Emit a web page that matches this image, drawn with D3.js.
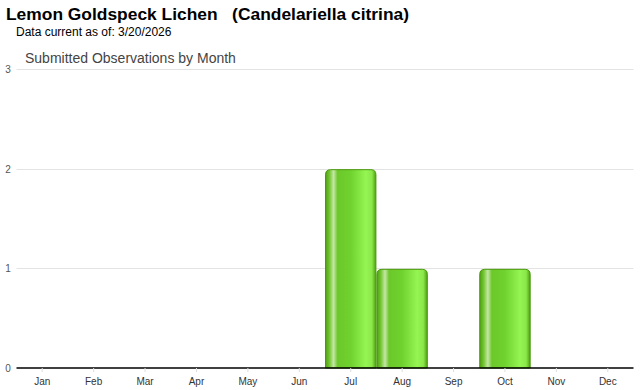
<!DOCTYPE html>
<html lang="en">
<head>
<meta charset="UTF-8">
<title>Submitted Observations by Month</title>
<script src="https://d3js.org/d3.v7.min.js"></script>
<style>
  body { margin: 0; background: #fff; }
</style>
</head>
<body>
<script>
    const months = ["Jan","Feb","Mar","Apr","May","Jun","Jul","Aug","Sep","Oct","Nov","Dec"];
    const counts = [0, 0, 0, 0, 0, 0, 2, 1, 0, 1, 0, 0];
    const yTicks = [0, 1, 2, 3];

    const width = 640, height = 390;
    const margin = {left: 16.5, right: 6.5, top: 68, bottom: 22};

    let svg = d3.select("body").append("svg")
        .attr("width", width)
        .attr("height", height)
        .style("font-family", "Arial, 'Liberation Sans', sans-serif");

    // gradient for the glossy bars
    let grad = svg.append("defs").append("linearGradient")
        .attr("id", "barGrad")
        .attr("x1", "0%").attr("x2", "100%").attr("y1", "0%").attr("y2", "0%");
    [[0, "#4f9f12"], [0.08, "#74c832"], [0.16, "#c6e6a8"], [0.24, "#6cc82a"],
     [0.5, "#6fd22e"], [0.8, "#95f553"], [0.92, "#8ae848"], [1, "#4f9f12"]]
        .forEach(s => grad.append("stop").attr("offset", s[0]).attr("stop-color", s[1]));

    let x = d3.scaleBand()
        .domain(months)
        .range([margin.left, width - margin.right])
        .padding(0);

    let y = d3.scaleLinear()
        .domain([0, 3])
        .range([height - margin.bottom, margin.top + 1]);

    // titles
    svg.append("text").attr("x", 6).attr("y", 20)
        .attr("font-size", "17.4px").attr("font-weight", "bold").attr("fill", "#000")
        .attr("xml:space", "preserve")
        .text("Lemon Goldspeck Lichen   (Candelariella citrina)");
    svg.append("text").attr("x", 16).attr("y", 36)
        .attr("font-size", "12px").attr("fill", "#000")
        .text("Data current as of: 3/20/2026");
    svg.append("text").attr("x", 25).attr("y", 63)
        .attr("font-size", "14px").attr("fill", "#444")
        .text("Submitted Observations by Month");

    // grid lines
    svg.append("g").selectAll("line")
        .data(yTicks.filter(d => d > 0))
        .enter().append("line")
        .attr("x1", margin.left).attr("x2", width - margin.right)
        .attr("y1", d => Math.round(y(d)) + 0.5).attr("y2", d => Math.round(y(d)) + 0.5)
        .attr("stroke", "#e3e3e3");

    // y labels
    svg.append("g").selectAll("text")
        .data(yTicks)
        .enter().append("text")
        .attr("x", 8).attr("y", d => y(d) + 4)
        .attr("text-anchor", "middle")
        .attr("font-size", "10px").attr("fill", "#555")
        .text(d => d);

    // bars
    svg.append("g").selectAll("path")
        .data(months.map((m, i) => ({m: m, v: counts[i]})).filter(d => d.v > 0))
        .enter().append("path")
        .attr("d", d => {
            const x0 = x(d.m) + 0.5, x1 = x(d.m) + x.bandwidth() - 0.5;
            const y0 = y(d.v) + 1, y1 = y(0), r = 5;
            return `M${x0},${y1}V${y0 + r}Q${x0},${y0} ${x0 + r},${y0}H${x1 - r}Q${x1},${y0} ${x1},${y0 + r}V${y1}Z`;
        })
        .attr("fill", "url(#barGrad)")
        .attr("stroke", "#4a9a0c")
        .attr("stroke-width", 1);

    // x axis
    let xAxis = svg.append("g")
        .attr("transform", `translate(0,${y(0)})`)
        .call(d3.axisBottom(x).tickSize(4).tickPadding(6));
    xAxis.select(".domain").attr("stroke", "#000").attr("stroke-width", 1.5)
        .attr("d", `M${margin.left},0H${width - margin.right}`);
    xAxis.selectAll(".tick line").attr("stroke", "#ddd");
    xAxis.selectAll(".tick text").attr("font-size", "10px").attr("fill", "#333")
        .style("font-family", "Arial, 'Liberation Sans', sans-serif");
</script>
</body>
</html>
